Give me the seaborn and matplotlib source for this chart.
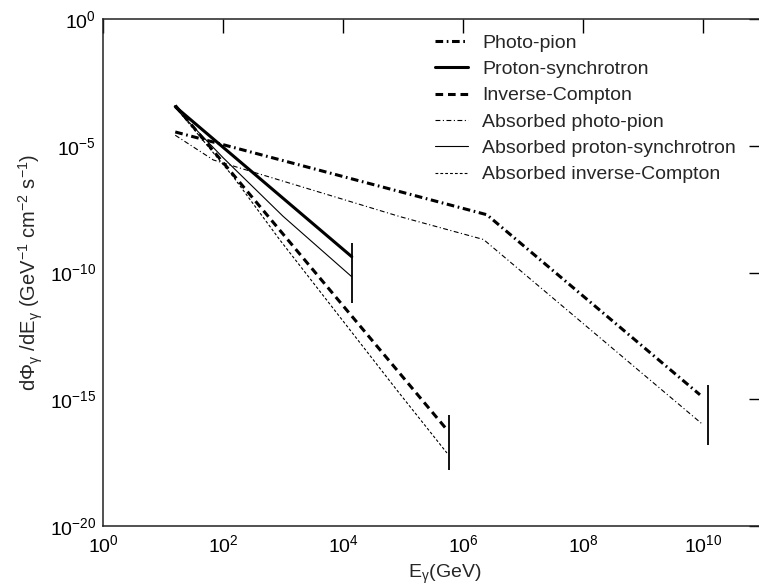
import matplotlib
matplotlib.use("Agg")
import matplotlib.pyplot as plt
import seaborn as sns
import numpy as np
import pandas as pd
from matplotlib.lines import Line2D

# ---------------- data ----------------
pp_E = [16, 2.5e6, 8.9e9]
pp_F = [3.5e-5, 1.9e-8, 1.5e-15]

abs_pp_E = [16, 69, 8.9e4, 2.2e6, 9.5e9]
abs_pp_F = [2.6e-5, 2.75e-6, 1.6e-8, 2.0e-9, 1.1e-16]

ps_E = [16, 1.4e4]
ps_F = [3.5e-4, 4.2e-10]

abs_ps_E = [16, 100, 1000, 1.4e4]
abs_ps_F = [3.1e-4, 3.4e-6, 1.66e-8, 6.8e-11]

ic_E = [16, 5.4e5]
ic_F = [3.9e-4, 6.3e-17]

abs_ic_E = [16, 148, 890, 7.9e4, 5.4e5]
abs_ic_F = [3.4e-4, 6.0e-7, 1.9e-9, 2.3e-15, 7.6e-18]

cut_E = [1.4e4, 5.9e5, 1.23e10]
cut_F_hi = [1.45e-9, 2.4e-16, 3.6e-15]
cut_F_lo = [6.3e-12, 1.6e-18, 1.55e-17]

labels = ["Photo-pion", "Proton-synchrotron", "Inverse-Compton",
          "Absorbed photo-pion", "Absorbed proton-synchrotron",
          "Absorbed inverse-Compton"]

x_ticks = [1e0, 1e2, 1e4, 1e6, 1e8, 1e10]
y_ticks = [1e-20, 1e-15, 1e-10, 1e-5, 1e0]

# ---------------- style ----------------
sns.set_style("white")
plt.rcParams["font.family"] = ["Liberation Sans", "DejaVu Sans"]
plt.rcParams["mathtext.fontset"] = "custom"
plt.rcParams["mathtext.rm"] = "Liberation Sans"
plt.rcParams["mathtext.it"] = "Liberation Sans:italic"
plt.rcParams["mathtext.default"] = "regular"
plt.rcParams["lines.scale_dashes"] = False

fig = plt.figure(figsize=(7.59, 5.88), dpi=100)
W, H = 759, 588
ax = fig.add_axes([103 / W, 1 - 526 / H, 660 / W, 507 / H])

thick = 2.2
thin = 0.8
styles = [
    dict(lw=thick, ls=(0, (5.5, 2.6, 1.2, 2.6))),   # photo-pion
    dict(lw=thick, ls="-"),                          # proton-synchrotron
    dict(lw=thick, ls=(0, (5.5, 3.5))),              # inverse-Compton
    dict(lw=thin, ls=(0, (3.5, 1.8, 0.8, 1.8))),     # absorbed photo-pion
    dict(lw=thin, ls="-"),                           # absorbed proton-synchrotron
    dict(lw=thin, ls=(0, (2.0, 1.5))),               # absorbed inverse-Compton
]
series = [(pp_E, pp_F), (ps_E, ps_F), (ic_E, ic_F),
          (abs_pp_E, abs_pp_F), (abs_ps_E, abs_ps_F), (abs_ic_E, abs_ic_F)]

for (E, F), st in zip(series, styles):
    df = pd.DataFrame({"E": E, "F": F})
    sns.lineplot(data=df, x="E", y="F", ax=ax, color="black",
                 linewidth=st["lw"], linestyle=st["ls"], estimator=None,
                 sort=False)

ax.vlines(cut_E, cut_F_lo, cut_F_hi, colors="black", linewidth=1.3)

ax.set_xscale("log")
ax.set_yscale("log")
ax.set_xlim(1e0, 1e11)
ax.set_ylim(1e-20, 1e0)
ax.set_xticks(x_ticks)
ax.set_yticks(y_ticks)
ax.minorticks_off()
ax.tick_params(which="major", direction="in", length=10, width=1.0,
               top=True, right=True, labelsize=14, colors="black")
ax.tick_params(axis="y", pad=5)
ax.tick_params(axis="x", pad=6)
for sp in ax.spines.values():
    sp.set_linewidth(1.1)
    sp.set_color("#222222")

ax.set_xlabel(r"E$_\gamma$(GeV)", fontsize=14)
ax.set_ylabel(r"d$\Phi_\gamma$ /dE$_\gamma$ (GeV$^{-1}$ cm$^{-2}$ s$^{-1}$)",
              fontsize=14.5)
ax.xaxis.set_label_coords(0.518, -0.072)
ax.yaxis.set_label_coords(-0.088, 0.5)

handles = [Line2D([], [], color="black", linewidth=st["lw"], linestyle=st["ls"])
           for st in styles]
leg = ax.legend(handles, labels, loc="upper left", frameon=False,
                bbox_to_anchor=(435 / W, 1 - 34 / H),
                bbox_transform=fig.transFigure, borderpad=0,
                borderaxespad=0, fontsize=14, handlelength=1.7,
                handletextpad=0.72, labelspacing=0.45)

fig.savefig("out.png", dpi=100)
